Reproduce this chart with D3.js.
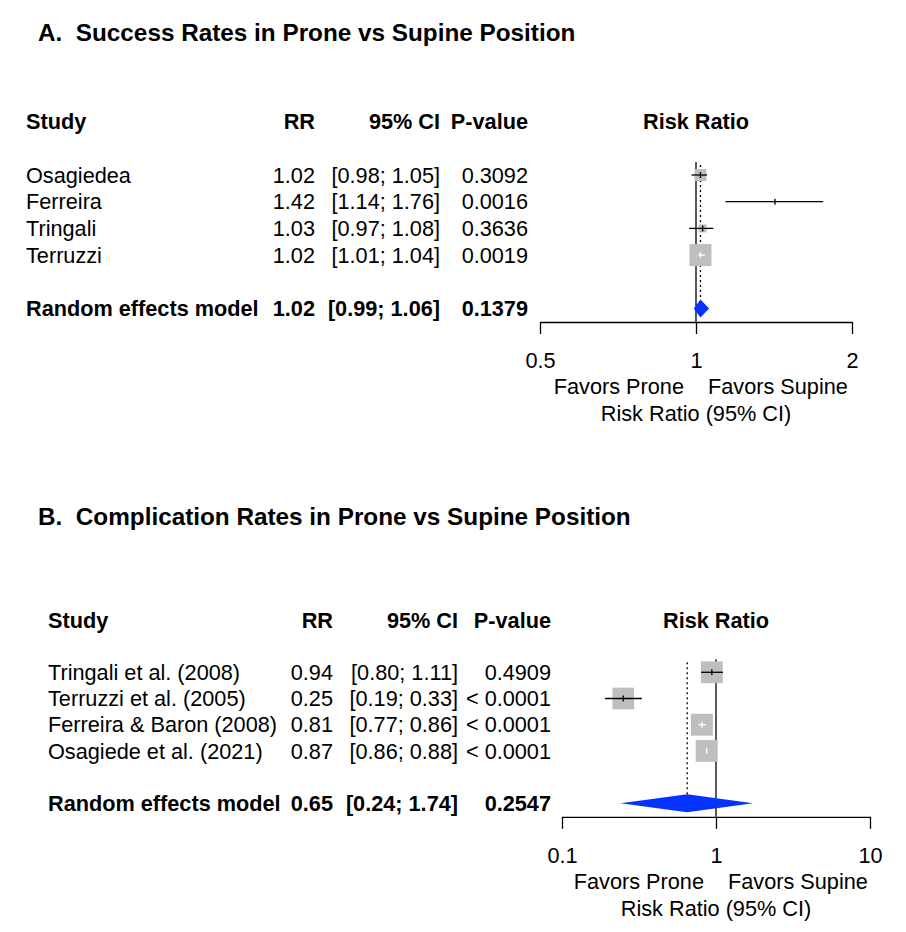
<!DOCTYPE html>
<html>
<head>
<meta charset="utf-8">
<script src="https://cdn.jsdelivr.net/npm/d3@7"></script>
<style>
  body { margin: 0; background: #fff; }
  text { font-family: Arial, "Liberation Sans", sans-serif; fill: #000; }
</style>
</head>
<body>
<script>
// panel A - success rates
var studiesA = ["Osagiedea", "Ferreira", "Tringali", "Terruzzi"];
var rrA = [1.02, 1.42, 1.03, 1.02];
var lowerA = [0.98, 1.14, 0.97, 1.01];
var upperA = [1.05, 1.76, 1.08, 1.04];
var pvalA = ["0.3092", "0.0016", "0.3636", "0.0019"];
var weightA = [20.7, 0.6, 9.2, 69.5];
var pooledA = [1.02, 0.99, 1.06];
var pooledPA = "0.1379";
var ticksA = [0.5, 1, 2];

// panel B - complication rates
var studiesB = ["Tringali et al. (2008)", "Terruzzi et al. (2005)", "Ferreira & Baron (2008)", "Osagiede et al. (2021)"];
var rrB = [0.94, 0.25, 0.81, 0.87];
var lowerB = [0.80, 0.19, 0.77, 0.86];
var upperB = [1.11, 0.33, 0.86, 0.88];
var pvalB = ["0.4909", "< 0.0001", "< 0.0001", "< 0.0001"];
var weightB = [24.8, 24.6, 25.2, 25.4];
var pooledB = [0.65, 0.24, 1.74];
var pooledPB = "0.2547";
var ticksB = [0.1, 1, 10];

var width = 906, height = 932;
var fmt = d3.format(".2f");

var svg = d3.select("body").append("svg")
  .attr("width", width)
  .attr("height", height);

function drawForest(cfg) {
  var g = svg.append("g");
  var x = d3.scaleLog().domain(cfg.domain).range(cfg.range);
  var rowY = function(i) { return cfg.rowTop + i * cfg.step; };
  var fs = 21.7;
  var base = 7.6; // text baseline below row centre
  var n = cfg.studies.length;
  var pooledRow = n + 1;
  var axisY = rowY(pooledRow) + 13.5;

  g.append("text")
    .attr("x", 38).attr("y", cfg.titleY)
    .style("font-size", "24.3px").style("font-weight", "bold")
    .attr("xml:space", "preserve")
    .text(cfg.title);

  // header
  var hy = rowY(-2) + base;
  var header = [
    { t: "Study", x: cfg.cols[0], a: "start" },
    { t: "RR", x: cfg.cols[1], a: "end" },
    { t: "95% CI", x: cfg.cols[2], a: "end" },
    { t: "P-value", x: cfg.cols[3], a: "end" },
    { t: "Risk Ratio", x: x(1), a: "middle" }
  ];
  g.selectAll(".hdr").data(header).enter().append("text")
    .attr("x", function(d) { return d.x; })
    .attr("y", hy)
    .attr("text-anchor", function(d) { return d.a; })
    .style("font-size", fs + "px").style("font-weight", "bold")
    .text(function(d) { return d.t; });

  // table rows
  var rows = cfg.studies.map(function(s, i) {
    return {
      name: s, rr: cfg.rr[i], lo: cfg.lower[i], hi: cfg.upper[i],
      p: cfg.pval[i], w: cfg.weight[i], i: i
    };
  });
  var maxW = d3.max(cfg.weight);

  rows.forEach(function(d) {
    var yy = rowY(d.i) + base;
    var cells = [
      [d.name, cfg.cols[0], "start"],
      [fmt(d.rr), cfg.cols[1], "end"],
      ["[" + fmt(d.lo) + "; " + fmt(d.hi) + "]", cfg.cols[2], "end"],
      [d.p, cfg.cols[3], "end"]
    ];
    cells.forEach(function(c) {
      g.append("text").attr("x", c[1]).attr("y", yy)
        .attr("text-anchor", c[2]).style("font-size", fs + "px")
        .text(c[0]);
    });
  });

  var py = rowY(pooledRow) + base;
  var pcells = [
    ["Random effects model", cfg.cols[0], "start"],
    [fmt(cfg.pooled[0]), cfg.cols[1], "end"],
    ["[" + fmt(cfg.pooled[1]) + "; " + fmt(cfg.pooled[2]) + "]", cfg.cols[2], "end"],
    [cfg.pooledP, cfg.cols[3], "end"]
  ];
  pcells.forEach(function(c) {
    g.append("text").attr("x", c[1]).attr("y", py)
      .attr("text-anchor", c[2]).style("font-size", fs + "px")
      .style("font-weight", "bold").text(c[0]);
  });

  // reference line at 1 and pooled estimate line
  var diaH = 9;
  g.append("line")
    .attr("x1", x(1)).attr("x2", x(1))
    .attr("y1", rowY(0) - 13).attr("y2", axisY)
    .attr("stroke", "#000").attr("stroke-width", 1.3);
  g.append("line")
    .attr("x1", x(cfg.pooled[0])).attr("x2", x(cfg.pooled[0]))
    .attr("y1", rowY(0) - 10).attr("y2", rowY(pooledRow) - diaH)
    .attr("stroke", "#000").attr("stroke-width", 1.3)
    .attr("stroke-dasharray", "2,3");

  // boxes and CIs
  rows.forEach(function(d) {
    var cy = rowY(d.i);
    var size = 22 * Math.sqrt(d.w / maxW);
    var inside = (x(d.hi) - x(d.lo)) <= size;
    var col = inside ? "#fff" : "#000";
    g.append("rect")
      .attr("x", x(d.rr) - size / 2).attr("y", cy - size / 2)
      .attr("width", size).attr("height", size)
      .attr("fill", "#bebebe");
    g.append("line")
      .attr("x1", x(d.lo)).attr("x2", x(d.hi))
      .attr("y1", cy).attr("y2", cy)
      .attr("stroke", col).attr("stroke-width", 1.3);
    g.append("line")
      .attr("x1", x(d.rr)).attr("x2", x(d.rr))
      .attr("y1", cy - 3).attr("y2", cy + 3)
      .attr("stroke", col).attr("stroke-width", 1.3);
  });

  // diamond
  var dy = rowY(pooledRow);
  g.append("path")
    .attr("d", "M" + x(cfg.pooled[1]) + "," + dy +
      "L" + x(cfg.pooled[0]) + "," + (dy - diaH) +
      "L" + x(cfg.pooled[2]) + "," + dy +
      "L" + x(cfg.pooled[0]) + "," + (dy + diaH) + "Z")
    .attr("fill", "#0433ff");

  // axis
  var ax = g.append("g")
    .attr("transform", "translate(0," + axisY + ")")
    .call(d3.axisBottom(x).tickValues(cfg.ticks)
      .tickFormat(function(d) { return String(d); })
      .tickSize(12).tickPadding(19).tickSizeOuter(0));
  ax.attr("font-size", null).attr("font-family", null);
  ax.selectAll("path, line").attr("stroke", "#000").attr("stroke-width", 1.3);
  ax.selectAll("text").style("font-size", fs + "px").attr("fill", "#000");

  g.append("text").attr("x", x(1) - 12).attr("y", axisY + 72)
    .attr("text-anchor", "end").style("font-size", fs + "px").text("Favors Prone");
  g.append("text").attr("x", x(1) + 12).attr("y", axisY + 72)
    .attr("text-anchor", "start").style("font-size", fs + "px").text("Favors Supine");
  g.append("text").attr("x", x(1)).attr("y", axisY + 99)
    .attr("text-anchor", "middle").style("font-size", fs + "px").text("Risk Ratio (95% CI)");
}

drawForest({
  title: "A.  Success Rates in Prone vs Supine Position", titleY: 41,
  studies: studiesA, rr: rrA, lower: lowerA, upper: upperA, pval: pvalA,
  weight: weightA, pooled: pooledA, pooledP: pooledPA, ticks: ticksA,
  domain: [0.5, 2], range: [540, 852],
  rowTop: 175, step: 26.7, cols: [26, 315, 440, 528]
});

drawForest({
  title: "B.  Complication Rates in Prone vs Supine Position", titleY: 525,
  studies: studiesB, rr: rrB, lower: lowerB, upper: upperB, pval: pvalB,
  weight: weightB, pooled: pooledB, pooledP: pooledPB, ticks: ticksB,
  domain: [0.1, 10], range: [562, 870],
  rowTop: 672.3, step: 26.2, cols: [48, 333, 458, 551]
});
</script>
</body>
</html>
